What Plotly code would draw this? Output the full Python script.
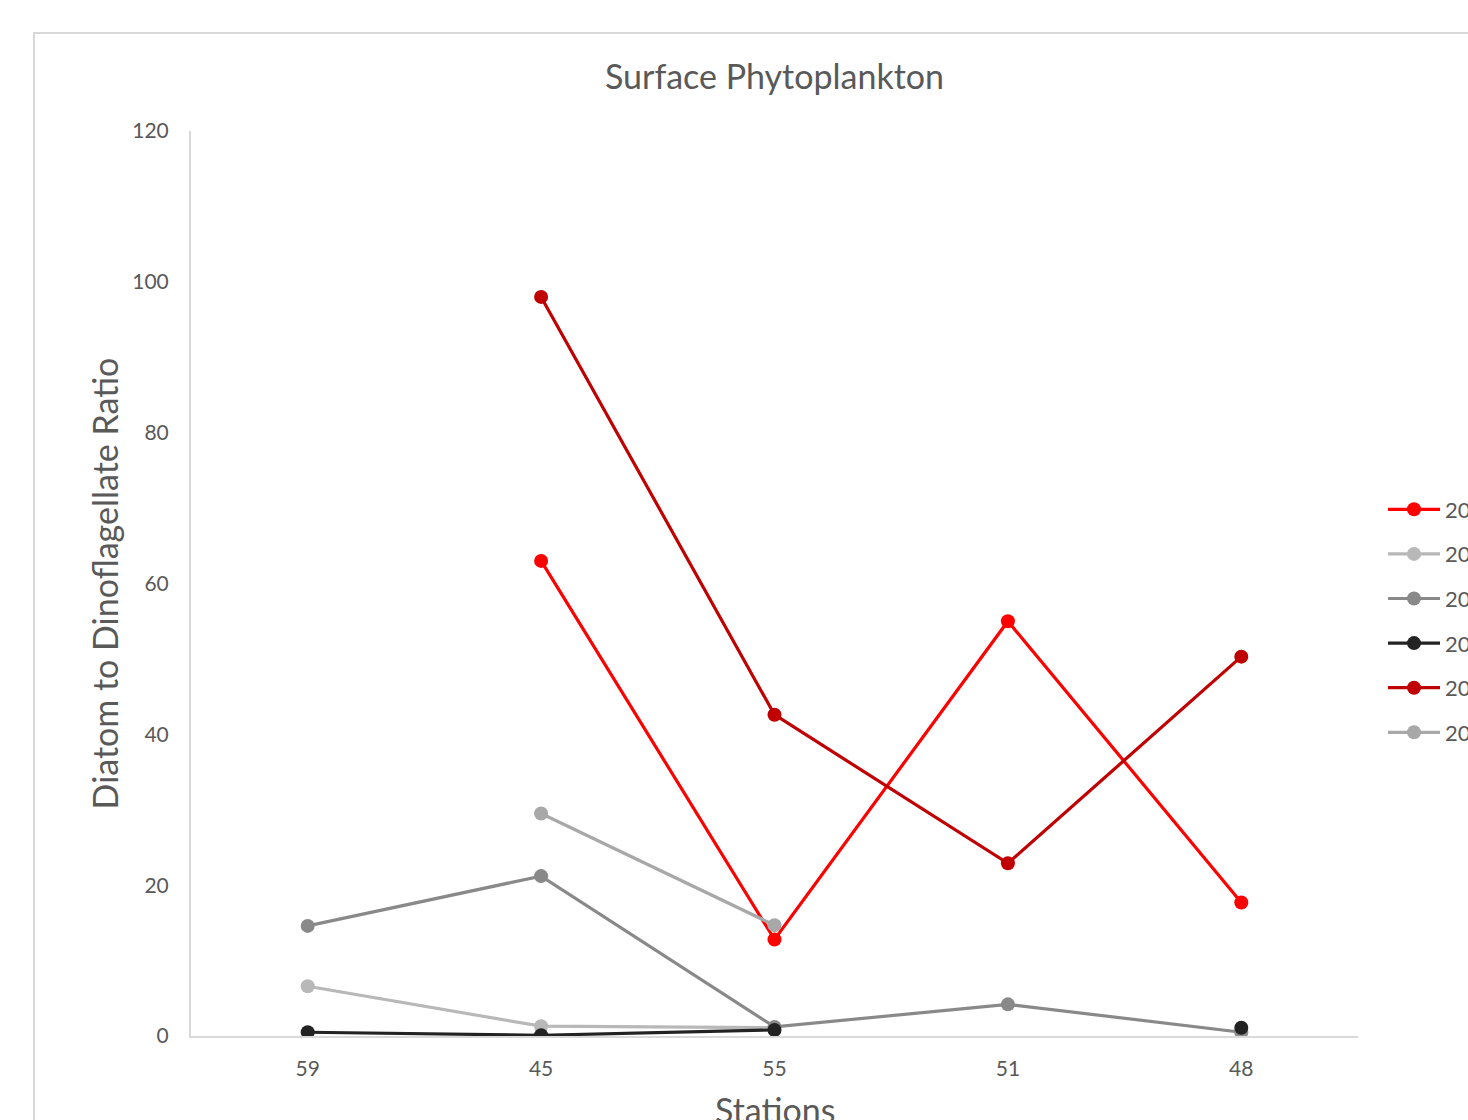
import plotly.graph_objects as go

# Stations along the transect (category order as sampled)
stations = ["59", "45", "55", "51", "48"]

# Diatom : dinoflagellate ratio per survey year (None = no sample)
years = ["2016", "2017", "2018", "2019", "2020", "2021"]
ratio_a = [None, 63.0, 12.8, 55.0, 17.7]
ratio_b = [6.6, 1.3, 1.1, None, None]
ratio_c = [14.6, 21.2, 1.2, 4.2, 0.5]
ratio_d = [0.5, 0.1, 0.8, None, 1.1]
ratio_e = [None, 98.0, 42.6, 22.9, 50.3]
ratio_f = [None, 29.5, 14.7, None, None]

series = [ratio_a, ratio_b, ratio_c, ratio_d, ratio_e, ratio_f]
colors = ["#FF0000", "#B8B8B8", "#898989", "#232323", "#C00000", "#A8A8A8"]

W, H = 1468, 1120
L, R, T, B = 191, 1358, 131, 1036  # plot area in pixels


def px(x):
    return (x - L) / (R - L)


def py(y):
    return (B - y) / (B - T)


fig = go.Figure()
for name, vals, col in zip(years, series, colors):
    fig.add_trace(go.Scatter(
        x=stations, y=vals, name=name, legendgroup=name,
        mode="lines+markers",
        line=dict(color=col, width=3.2),
        marker=dict(color=col, size=14),
        connectgaps=False,
    ))

font = "Lato, 'Open Sans', sans-serif"
fig.update_layout(
    width=W, height=H,
    margin=dict(l=L, r=W - R, t=T, b=H - B, autoexpand=False),
    paper_bgcolor="white", plot_bgcolor="white",
    font=dict(family=font, color="#595959"),
    title=dict(text="Surface Phytoplankton", x=0.5, xref="paper", xanchor="center",
               y=1 - 77 / H, yanchor="middle",
               font=dict(size=34, color="#595959", family=font)),
    showlegend=True,
    legend=dict(x=px(1383), xanchor="left", y=py(621), yanchor="middle",
                font=dict(size=22, color="#595959"), itemwidth=52,
                tracegroupgap=13, bgcolor="rgba(0,0,0,0)"),
    xaxis=dict(type="category", range=[-0.5, 4.5], showgrid=False,
               showline=True, linecolor="#D9D9D9", linewidth=2,
               ticks="", ticklabelstandoff=13,
               tickfont=dict(size=21, color="#595959")),
    yaxis=dict(range=[0, 120], dtick=20, showgrid=False, zeroline=False,
               showline=True, linecolor="#D9D9D9", linewidth=2,
               ticks="", ticklabelstandoff=16,
               tickfont=dict(size=21, color="#595959"),
               title=dict(text="Diatom to Dinoflagellate Ratio", standoff=3,
                          font=dict(size=34, color="#595959"))),
    annotations=[dict(text="Stations", xref="paper", yref="paper",
                      x=0.5, y=py(1109), xanchor="center", yanchor="middle",
                      showarrow=False, font=dict(size=34, color="#595959"))],
    shapes=[dict(type="rect", xref="paper", yref="paper",
                 x0=px(34), x1=px(1600), y0=-0.5, y1=py(33),
                 line=dict(color="#D9D9D9", width=2), fillcolor="rgba(0,0,0,0)",
                 layer="below")],
)

fig.write_html("out.html")
